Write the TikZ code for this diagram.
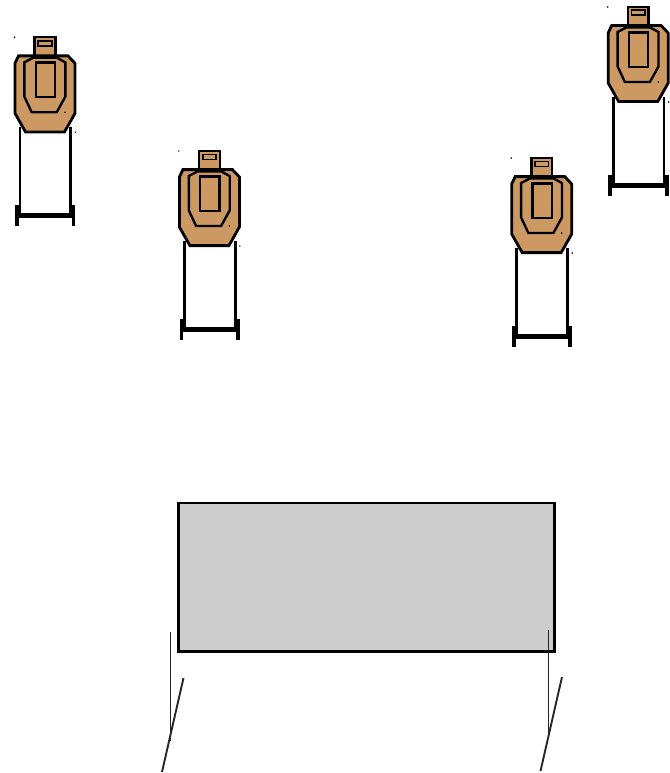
\documentclass[tikz,border=0pt]{standalone}
\usetikzlibrary{positioning}
\definecolor{ctan}{HTML}{CD9963}
\definecolor{cgrey}{HTML}{CDCDCD}
\tikzset{
  every picture/.style={line width=2.4pt},
  outline/.style={draw=black, line join=miter},
  stand/.style={draw=black, line width=2.8pt},
  barrier/.style={draw=black, fill=cgrey, line width=2.8pt, minimum width=376pt, minimum height=148.5pt, inner sep=0pt, outer sep=0pt},
  brace/.style={draw=black!85, line width=1.9pt},
  speck/.style={fill=black},
  pics/target/.style={code={
    % legs and base
    \draw[stand] (-25,90) -- (-25,178);
    \draw[stand] (25.7,90) -- (25.7,178);
    \draw[draw=black, line width=5pt] (-28,178.4) -- (28.5,178.4);
    \draw[stand, line width=3.6pt] (-28,168) -- (-28,189);
    \draw[stand, line width=3.6pt] (28.5,168) -- (28.5,189);
    % head and body
    \draw[outline, fill=ctan] (-10.4,0) rectangle (10.4,19);
    \draw[outline, fill=ctan, line width=2.8pt] (-26.5,18.6) -- (23,18.6) -- (30,26) -- (30,76) -- (19.5,94.6)
      -- (-19.5,94.6) -- (-30,76) -- (-30,26) -- cycle;
    \draw[outline] (-20.6,25) -- (-11.7,20.4) -- (11.7,20.4) -- (20.3,25) -- (20.3,59.4)
      -- (11.7,75) -- (-13.3,75) -- (-20.6,59.4) -- cycle;
    \draw[outline] (-9.3,25.4) rectangle (10,60);
    \draw[outline, line width=1.8pt] (-6.7,3.4) rectangle (6.7,8.4);
    % specks
    \fill[speck] (-30.5,0) circle (0.8);
    \fill[speck] (20,75) circle (0.8);
    \fill[speck] (30.5,95) circle (0.8);
  }},
}

\begin{document}
\begin{tikzpicture}[x=1pt, y=-1pt]
  \useasboundingbox (0,0) rectangle (669,773);
  \foreach \tx/\ty in {45/37.3, 209.4/151, 541.7/158, 638.2/7}
    \pic at (\tx,\ty) {target};
  \node[barrier, anchor=north west] (wall) at (178.5,503) {};
  % left brace
  \draw[brace] (170.5,632) -- (170.5,741);
  \draw[brace] (183.5,678) -- (162,772);
  % right brace
  \draw[brace] (548.5,630) -- (548.5,739);
  \draw[brace] (562,677) -- (540.5,771);
\end{tikzpicture}
\end{document}
